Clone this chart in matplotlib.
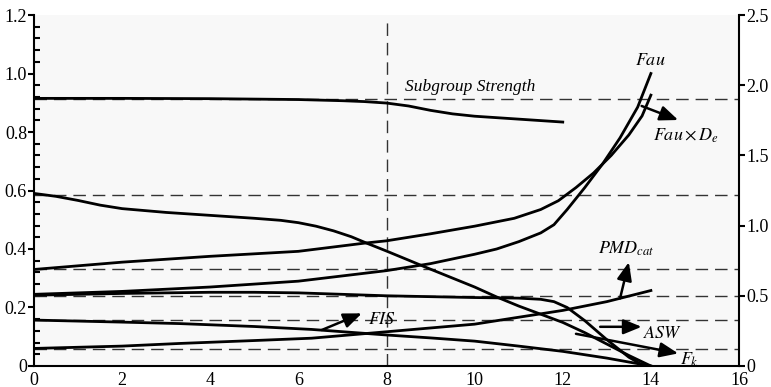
import numpy as np
import matplotlib
matplotlib.use('Agg')
import matplotlib.pyplot as plt

plt.rcParams['font.family'] = ['Liberation Serif', 'DejaVu Serif']
plt.rcParams['mathtext.fontset'] = 'stix'

# values (left axis units)
x_sub = [0, 2, 4, 6, 7, 7.5, 8, 8.5, 9, 9.5, 10, 10.8, 12]
y_sub = [0.915, 0.915, 0.914, 0.911, 0.907, 0.904, 0.899, 0.889, 0.874, 0.862, 0.854, 0.846, 0.834]

x_fau = [0, 2, 4, 6, 8, 9, 10, 10.5, 11, 11.5, 11.8, 12.1, 12.5, 12.9, 13.3, 13.7, 14]
y_fau = [0.245, 0.255, 0.27, 0.29, 0.326, 0.35, 0.382, 0.40, 0.425, 0.455, 0.483, 0.535, 0.61, 0.69, 0.78, 0.885, 1.0]

x_faude = [0, 2, 4, 6, 7.5, 8, 9, 10, 10.9, 11.5, 11.9, 12.3, 12.7, 13.1, 13.5, 13.8, 14]
y_faude = [0.33, 0.355, 0.375, 0.392, 0.42, 0.428, 0.452, 0.478, 0.505, 0.535, 0.565, 0.61, 0.66, 0.72, 0.79, 0.855, 0.926]

x_desc = [0, 0.5, 1, 1.5, 2, 3, 4, 5, 5.6, 6.0, 6.4, 6.8, 7.2, 7.55, 8, 8.9, 10, 10.5, 11, 11.5, 12, 12.5, 13, 13.5, 14]
y_desc = [0.59, 0.58, 0.566, 0.55, 0.538, 0.525, 0.515, 0.505, 0.498, 0.49, 0.478, 0.462, 0.442, 0.42, 0.393, 0.337, 0.27, 0.236, 0.205, 0.177, 0.149, 0.114, 0.075, 0.036, 0.0]

x_asw = [0, 2, 4, 5, 6, 8, 10, 11, 11.5, 11.8, 12.1, 12.5, 13, 13.5, 13.85]
y_asw = [0.242, 0.248, 0.252, 0.252, 0.25, 0.24, 0.234, 0.232, 0.228, 0.22, 0.2, 0.155, 0.09, 0.03, 0.0]

x_fis = [0, 2, 3.3, 5, 6.3, 8, 9, 10, 11, 12, 13, 14]
y_fis = [0.157, 0.15, 0.145, 0.135, 0.125, 0.106, 0.096, 0.085, 0.068, 0.05, 0.027, 0.0]

x_pmd = [0, 2, 3.3, 5, 6.3, 8, 9, 10, 10.8, 12, 13, 14]
y_pmd = [0.06, 0.068, 0.077, 0.087, 0.095, 0.117, 0.13, 0.143, 0.162, 0.19, 0.22, 0.258]

ref_lines = [0.913, 0.586, 0.330, 0.240, 0.156, 0.057]

fig = plt.figure(figsize=(7.71, 3.87), dpi=100)
ax = fig.add_axes([0.0441, 0.0543, 0.9144, 0.9069])
ax.set_facecolor('#f8f8f8')

lw = 2.0
for xs, ys in [(x_sub, y_sub), (x_fau, y_fau), (x_faude, y_faude), (x_desc, y_desc),
               (x_asw, y_asw), (x_fis, y_fis), (x_pmd, y_pmd)]:
    ax.plot(xs, ys, color='black', lw=lw, solid_joinstyle='round', zorder=3)

for yv in ref_lines:
    ax.axhline(yv, color='#333333', lw=1.0, dashes=(9, 5), zorder=2)
ax.axvline(8, ymax=0.985, color='#333333', lw=1.0, dashes=(9, 5), zorder=2)

ax.set_xlim(0, 16)
ax.set_ylim(0, 1.2)
ax.set_xticks(np.arange(0, 17, 2))
ax.set_yticks([0, 0.2, 0.4, 0.6, 0.8, 1.0, 1.2])
ax.set_yticklabels(['0', '0.2', '0.4', '0.6', '0.8', '1.0', '1.2'])
ax.set_yticks(np.arange(0, 1.21, 0.04), minor=True)
ax.tick_params(axis='x', length=0, labelsize=13, pad=4)
ax.tick_params(axis='y', which='major', direction='out', length=4, width=1.5, labelsize=13, pad=1)
ax.tick_params(axis='y', which='minor', direction='in', length=4, width=1.5)
ax.spines['top'].set_visible(False)
ax.spines['right'].set_visible(False)
ax.spines['left'].set_linewidth(1.5)
ax.spines['bottom'].set_linewidth(1.5)

ax2 = ax.twinx()
ax2.set_ylim(0, 2.5)
ax2.set_yticks([0, 0.5, 1.0, 1.5, 2.0, 2.5])
ax2.set_yticklabels(['0', '0.5', '1.0', '1.5', '2.0', '2.5'])
ax2.tick_params(axis='y', direction='out', length=4, width=1.5, labelsize=13, pad=1)
for s in ['top', 'left', 'bottom']:
    ax2.spines[s].set_visible(False)
ax2.spines['right'].set_linewidth(1.5)

# annotations
ax.text(8.42, 0.94, 'Subgroup Strength', fontsize=12.5, style='italic')
ax.text(13.64, 1.03, '$Fau$', fontsize=13)
ax.text(14.04, 0.77, r'$Fau\times D_e$', fontsize=13)
ax.text(12.8, 0.385, '$PMD_{cat}$', fontsize=13)
ax.text(13.83, 0.097, '$ASW$', fontsize=13)
ax.text(14.66, 0.005, '$F_k$', fontsize=13)
ax.text(7.59, 0.143, '$FIS$', fontsize=13)

arrow = dict(arrowstyle='-|>,head_length=1.1,head_width=0.45', color='black', lw=1.8,
             shrinkA=0, shrinkB=0)
ax.annotate('', xy=(14.62, 0.841), xytext=(13.79, 0.889), arrowprops=arrow)
ax.annotate('', xy=(13.5, 0.355), xytext=(13.3, 0.231), arrowprops=arrow)
ax.annotate('', xy=(13.79, 0.134), xytext=(12.85, 0.134), arrowprops=arrow)
ax.annotate('', xy=(14.62, 0.043), xytext=(12.3, 0.11), arrowprops=arrow)
ax.annotate('', xy=(7.44, 0.18), xytext=(6.53, 0.123), arrowprops=arrow)

fig.savefig('out.png', dpi=100)
